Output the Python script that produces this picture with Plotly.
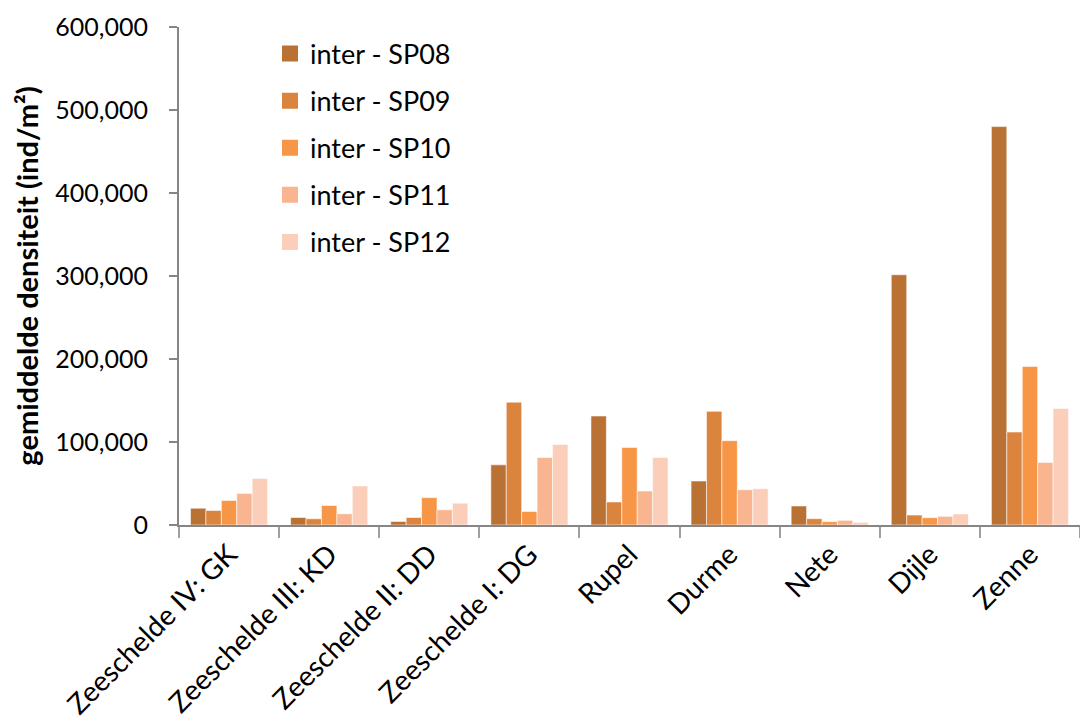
import plotly.graph_objects as go

categories = ["Zeeschelde IV: GK", "Zeeschelde III: KD", "Zeeschelde II: DD",
              "Zeeschelde I: DG", "Rupel", "Durme", "Nete", "Dijle", "Zenne"]
series_names = ["inter - SP08", "inter - SP09", "inter - SP10", "inter - SP11", "inter - SP12"]
sp08 = [20200, 9000, 4200, 72500, 131300, 53000, 22900, 301500, 480000]
sp09 = [17500, 7500, 9000, 148000, 27700, 136900, 7600, 12000, 112000]
sp10 = [29500, 23500, 33000, 16300, 93500, 101600, 4000, 8800, 191000]
sp11 = [38000, 13500, 18300, 81300, 41000, 42500, 5600, 10400, 75400]
sp12 = [56000, 47000, 26300, 97000, 81400, 43700, 3200, 13300, 140500]
series_values = [sp08, sp09, sp10, sp11, sp12]
colors = ["#B97234", "#DB843E", "#F79646", "#F9B590", "#FBCEB9"]
y_ticks = [0, 100000, 200000, 300000, 400000, 500000, 600000]
y_title = "gemiddelde densiteit (ind/m²)"

FONT = "Lato"
fig = go.Figure()
for i, (name, vals, col) in enumerate(zip(series_names, series_values, colors)):
    fig.add_trace(go.Bar(
        x=categories, y=vals, name=name, marker_color=col,
        marker_line=dict(color="rgba(255,255,255,0.55)", width=1),
        showlegend=False,
    ))
for i, (name, col) in enumerate(zip(series_names, colors)):
    fig.add_trace(go.Scatter(
        x=[None], y=[None], mode="markers", name=name, legendgroup=name,
        marker=dict(symbol="square", size=16, color=col, line=dict(width=0)),
    ))

fig.update_layout(
    width=1080, height=728,
    margin=dict(l=179, r=0, t=27, b=203),
    paper_bgcolor="white", plot_bgcolor="white",
    barmode="group", bargap=0.23, bargroupgap=0,
    font=dict(family=FONT, size=25, color="black"),
    separators=".,",
    legend=dict(x=0.101, y=0.995, xanchor="left", yanchor="top",
                font=dict(size=27), tracegroupgap=9, itemsizing="trace",
                bgcolor="rgba(0,0,0,0)"),
)
fig.update_xaxes(
    type="category", showline=True, linecolor="#868686", linewidth=2,
    ticks="outside", tickson="boundaries", ticklen=11, tickcolor="#A0A0A0", tickwidth=2,
    tickangle=-45, tickfont=dict(size=28, family=FONT), showgrid=False,
)
fig.update_yaxes(
    range=[0, 600000], tickvals=y_ticks, tickformat=",d",
    showline=True, linecolor="#868686", linewidth=2,
    ticks="outside", ticklen=8, tickcolor="#868686", tickwidth=1.5,
    ticklabelstandoff=16, showgrid=False, zeroline=False,
    tickfont=dict(size=25, family=FONT),
    title=dict(text="<b>" + y_title + "</b>", font=dict(size=29, family=FONT), standoff=8),
)
fig.write_html("out.html")
